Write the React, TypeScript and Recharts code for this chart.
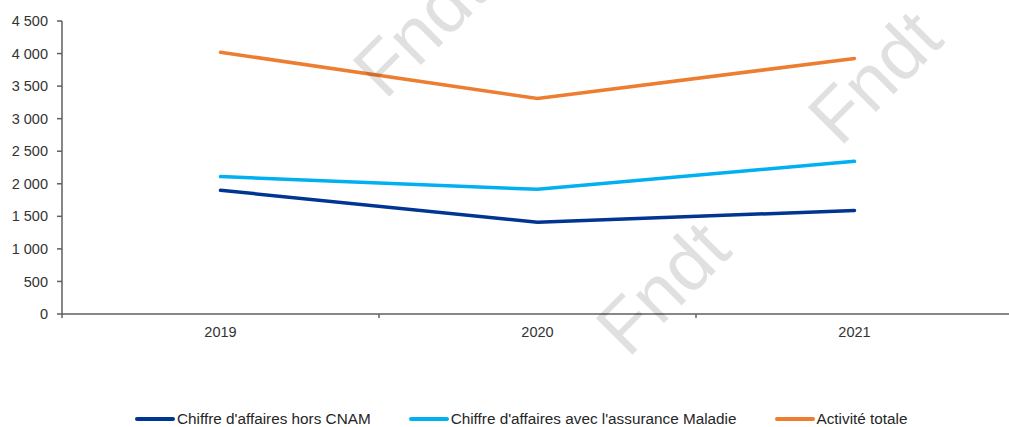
import React from 'react';
import { LineChart, Line, XAxis, YAxis, Legend } from 'recharts';

const years = ['2019', '2020', '2021'];
const horsCnam = [1900, 1410, 1590];
const avecAssurance = [2110, 1915, 2345];
const activiteTotale = [4020, 3310, 3925];
const yTicks = [0, 500, 1000, 1500, 2000, 2500, 3000, 3500, 4000, 4500];
const xTicks = [0, 0.5, 1, 1.5, 2, 2.5, 3];
const seriesNames = [
  "Chiffre d'affaires hors CNAM",
  "Chiffre d'affaires avec l'assurance Maladie",
  'Activité totale',
];
const seriesColors = ['#003591', '#00B0F0', '#ED7D31'];
const watermarks = [
  { x: 438, y: 48 },
  { x: 893, y: 95 },
  { x: 681, y: 306 },
];

const data = years.map((year, i) => ({
  year,
  idx: i + 0.5,
  horsCnam: horsCnam[i],
  avecAssurance: avecAssurance[i],
  activiteTotale: activiteTotale[i],
}));

const fmt = (v: number) => String(v).replace(/\B(?=(\d{3})+(?!\d))/g, ' ');
const FONT = '"Liberation Sans", Arial, sans-serif';
const AXIS = '#5f5f5f';

const XTick = (props: any) => {
  const { x, y, payload } = props;
  const v = payload.value;
  if (Number.isInteger(v)) {
    return <line x1={x} x2={x} y1={y} y2={y + 4} stroke={AXIS} strokeWidth={1.5} />;
  }
  return (
    <text x={x} y={y + 23} textAnchor="middle" fill="#333" fontSize={14.5} fontFamily={FONT}>
      {years[Math.floor(v)]}
    </text>
  );
};

const LegendContent = () => (
  <div style={{ display: 'flex', fontFamily: FONT, fontSize: 15.3, color: '#262626', lineHeight: '16px' }}>
    {seriesNames.map((name, i) => (
      <div key={i} style={{ display: 'flex', alignItems: 'center', marginRight: i < seriesNames.length - 1 ? 38 : 0 }}>
        <div style={{ width: 40, height: 3.5, background: seriesColors[i], borderRadius: 2, marginRight: 2 }} />
        <span>{name}</span>
      </div>
    ))}
  </div>
);

export default function App() {
  return (
    <div style={{ position: 'absolute', left: 0, top: 0, width: 1009, height: 427, background: '#fff' }}>
      <LineChart width={1009} height={427} data={data} margin={{ top: 21, right: -4, left: 2, bottom: 0 }}>
        <XAxis
          type="number"
          dataKey="idx"
          domain={[0, 3]}
          ticks={xTicks}
          interval={0}
          allowDataOverflow
          height={97}
          axisLine={{ stroke: AXIS, strokeWidth: 1.5 }}
          tickLine={false}
          tickSize={0}
          tickMargin={0}
          tick={<XTick />}
        />
        <YAxis
          domain={[0, 4500]}
          ticks={yTicks}
          width={60}
          tickFormatter={fmt}
          axisLine={{ stroke: AXIS, strokeWidth: 1.5 }}
          tickLine={{ stroke: AXIS, strokeWidth: 1.5 }}
          tickSize={5}
          tickMargin={9}
          tick={{ fill: '#333', fontSize: 14.5, fontFamily: FONT }}
          interval={0}
        />
        <Legend verticalAlign="bottom" height={16} content={LegendContent} wrapperStyle={{ left: 135, width: 'auto' }} />
        <Line dataKey="horsCnam" name={seriesNames[0]} stroke={seriesColors[0]} strokeWidth={3.5} dot={false} strokeLinecap="round" isAnimationActive={false} />
        <Line dataKey="avecAssurance" name={seriesNames[1]} stroke={seriesColors[1]} strokeWidth={3.5} dot={false} strokeLinecap="round" isAnimationActive={false} />
        <Line dataKey="activiteTotale" name={seriesNames[2]} stroke={seriesColors[2]} strokeWidth={3.5} dot={false} strokeLinecap="round" isAnimationActive={false} />
      </LineChart>
      <svg width={1009} height={427} style={{ position: 'absolute', left: 0, top: 0, pointerEvents: 'none' }}>
        {watermarks.map((w, i) => (
          <text
            key={i}
            x={w.x}
            y={w.y}
            textAnchor="middle"
            fontFamily={FONT}
            fontSize={75}
            fill="rgba(0,0,0,0.12)"
            transform={`rotate(-45 ${w.x} ${w.y})`}
          >
            Fndt
          </text>
        ))}
      </svg>
    </div>
  );
}
